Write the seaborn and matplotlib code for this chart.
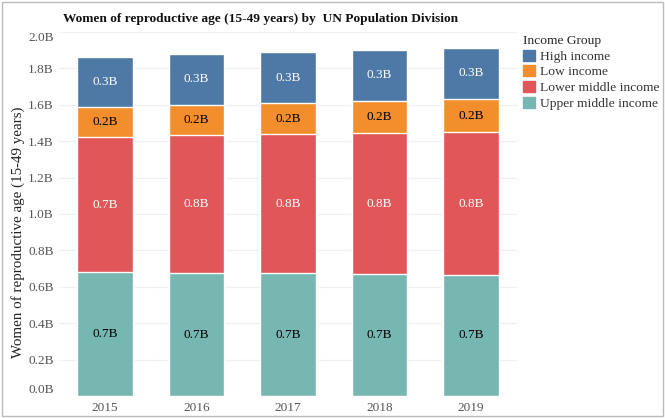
import numpy as np
import pandas as pd
import matplotlib
matplotlib.use('Agg')
import matplotlib.pyplot as plt
import matplotlib.transforms as mtrans
from matplotlib.patches import Patch, Rectangle
import seaborn as sns

# data (billions)
years = ['2015', '2016', '2017', '2018', '2019']
upper_middle = [0.679, 0.675, 0.675, 0.669, 0.665]
lower_middle = [0.743, 0.758, 0.762, 0.775, 0.783]
low_income = [0.167, 0.167, 0.170, 0.178, 0.185]
high_income = [0.276, 0.280, 0.284, 0.278, 0.280]

groups = ['Upper middle income', 'Lower middle income', 'Low income', 'High income']
legend_order = ['High income', 'Low income', 'Lower middle income', 'Upper middle income']
colors = {'High income': '#4e79a7', 'Low income': '#f28e2b',
          'Lower middle income': '#e15759', 'Upper middle income': '#76b7b2'}
txt_col = {'High income': 'white', 'Low income': 'black',
           'Lower middle income': 'white', 'Upper middle income': 'black'}

df = pd.DataFrame({'year': years, 'Upper middle income': upper_middle,
                   'Lower middle income': lower_middle,
                   'Low income': low_income, 'High income': high_income})
cum = df[groups].cumsum(axis=1)

sns.set_theme(style='white')
plt.rcParams['font.family'] = ['Liberation Serif', 'DejaVu Serif']

fig = plt.figure(figsize=(6.65, 4.18), dpi=100)
ax = fig.add_axes([0.0891, 0.0526, 0.688, 0.871])

# stacked bars: draw cumulative totals from the top layer down
for g in groups[::-1]:
    sns.barplot(x=df['year'], y=cum[g], color=colors[g], width=0.61,
                saturation=1, ax=ax, zorder=3)

for i, yr in enumerate(years):
    base = 0
    for g in groups:
        v = df.loc[i, g]
        ax.text(i, base + v / 2, f'{v:.1f}B', ha='center', va='center',
                fontsize=9.5, color=txt_col[g], zorder=4)
        base += v

ax.set_ylim(0, 2.0)
ax.set_xlim(-0.5, 4.5)
ticks = np.arange(0, 2.01, 0.2)
ax.set_yticks(ticks)
ax.set_yticklabels([f'{t:.1f}B' for t in ticks])
ax.grid(axis='y', color='#f0f0f0', linewidth=1, zorder=0)
for s in ax.spines.values():
    s.set_visible(False)
ax.tick_params(axis='both', length=0, labelsize=9.5, colors='#555555')
ax.tick_params(axis='y', pad=4)
ax.tick_params(axis='x', pad=4)

# end labels sit inside the axis range, like the original
ylabels = ax.get_yticklabels()
ylabels[0].set_transform(ylabels[0].get_transform() +
                         mtrans.ScaledTranslation(0, 8 / 100, fig.dpi_scale_trans))
ylabels[-1].set_transform(ylabels[-1].get_transform() +
                          mtrans.ScaledTranslation(0, -5 / 100, fig.dpi_scale_trans))

ax.set_xlabel('')
ax.set_ylabel('Women of reproductive age (15-49 years)', fontsize=10.8,
              color='#222222', labelpad=3)
ax.yaxis.set_label_coords(-0.075, 0.45)

fig.text(0.095, 0.955, 'Women of reproductive age (15-49 years) by  UN Population Division',
         fontsize=9.6, fontweight='bold', color='#111111', va='center')

handles = [Patch(color=colors[g]) for g in legend_order]
leg = fig.legend(handles, legend_order,
                 title='Income Group', loc='upper left', bbox_to_anchor=(0.786, 0.916),
                 frameon=False, fontsize=9.7, title_fontsize=9.7, handlelength=0.9,
                 handleheight=0.9, handletextpad=0.4, labelspacing=0.18,
                 borderaxespad=0, borderpad=0, alignment='left')
for t in leg.get_texts():
    t.set_color('#333333')

fig.patches.append(Rectangle((0.003, 0.005), 0.994, 0.99, transform=fig.transFigure,
                             fill=False, edgecolor='#bbbbbb', linewidth=1))

fig.savefig('out.png', dpi=100)
